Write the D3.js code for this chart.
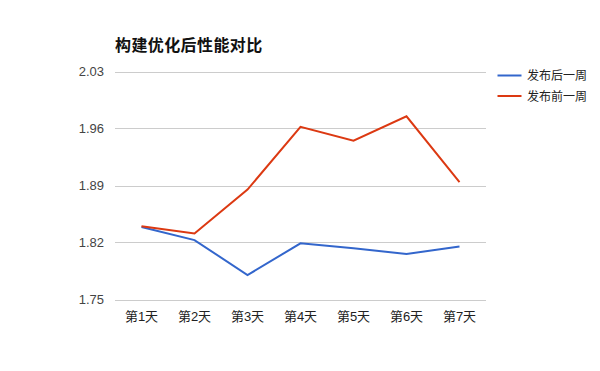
<!DOCTYPE html>
<html lang="zh">
<head>
<meta charset="UTF-8">
<title>构建优化后性能对比</title>
<script src="https://cdn.jsdelivr.net/npm/d3@7"></script>
<style>
  body { margin: 0; background: #fff; }
  svg { font-family: Arial, "Liberation Sans", "Noto Sans CJK SC", sans-serif; }
</style>
</head>
<body>
<script>
// data
const days = ["第1天", "第2天", "第3天", "第4天", "第5天", "第6天", "第7天"];
const afterWeek = [1.839, 1.823, 1.780, 1.819, 1.813, 1.806, 1.815];   // 发布后一周
const beforeWeek = [1.840, 1.831, 1.885, 1.962, 1.945, 1.975, 1.894];  // 发布前一周
const yTicks = [1.75, 1.82, 1.89, 1.96, 2.03];
const seriesNames = ["发布后一周", "发布前一周"];
const colors = ["#3366cc", "#dc3912"];

const width = 600, height = 371;
const plotLeft = 115, plotRight = 486, plotTop = 71.5, plotBottom = 299.5;

const svg = d3.select("body").append("svg")
    .attr("width", width)
    .attr("height", height);

const x = d3.scaleBand().domain(days).range([plotLeft, plotRight]);
const y = d3.scaleLinear().domain([1.75, 2.03]).range([plotBottom, plotTop]);

// gridlines
svg.append("g")
  .selectAll("line")
  .data(yTicks)
  .join("line")
    .attr("x1", plotLeft).attr("x2", plotRight)
    .attr("y1", d => Math.round(y(d)) + 0.5)
    .attr("y2", d => Math.round(y(d)) + 0.5)
    .attr("stroke", "#cccccc");

// y labels
svg.append("g")
  .selectAll("text")
  .data(yTicks)
  .join("text")
    .attr("x", plotLeft - 11)
    .attr("y", d => y(d) + 4.5)
    .attr("text-anchor", "end")
    .attr("font-size", 13)
    .attr("fill", "#444")
    .text(d => d.toFixed(2));

// x labels
svg.append("g")
  .selectAll("text")
  .data(days)
  .join("text")
    .attr("x", d => x(d) + x.bandwidth() / 2)
    .attr("y", 321)
    .attr("text-anchor", "middle")
    .attr("font-size", 13)
    .attr("fill", "#222")
    .text(d => d);

const line = d3.line()
    .x((d, i) => x(days[i]) + x.bandwidth() / 2)
    .y(d => y(d));

[afterWeek, beforeWeek].forEach((s, k) => {
  svg.append("path")
    .datum(s)
    .attr("d", line)
    .attr("fill", "none")
    .attr("stroke", colors[k])
    .attr("stroke-width", 2);
});

// title
svg.append("text")
    .attr("x", plotLeft)
    .attr("y", 51)
    .attr("font-size", 16)
    .attr("font-weight", "bold")
    .attr("letter-spacing", 0.4)
    .attr("fill", "#111")
    .text("构建优化后性能对比");

// legend
const lg = svg.append("g")
  .selectAll("g")
  .data(seriesNames)
  .join("g")
    .attr("transform", (d, i) => `translate(497.5,${75.5 + i * 20.5})`);

lg.append("line")
    .attr("x1", 0).attr("x2", 24)
    .attr("y1", 0).attr("y2", 0)
    .attr("stroke", (d, i) => colors[i])
    .attr("stroke-width", 2);

lg.append("text")
    .attr("x", 29.5)
    .attr("y", 4.5)
    .attr("font-size", 12)
    .attr("fill", "#222")
    .text(d => d);
</script>
</body>
</html>
